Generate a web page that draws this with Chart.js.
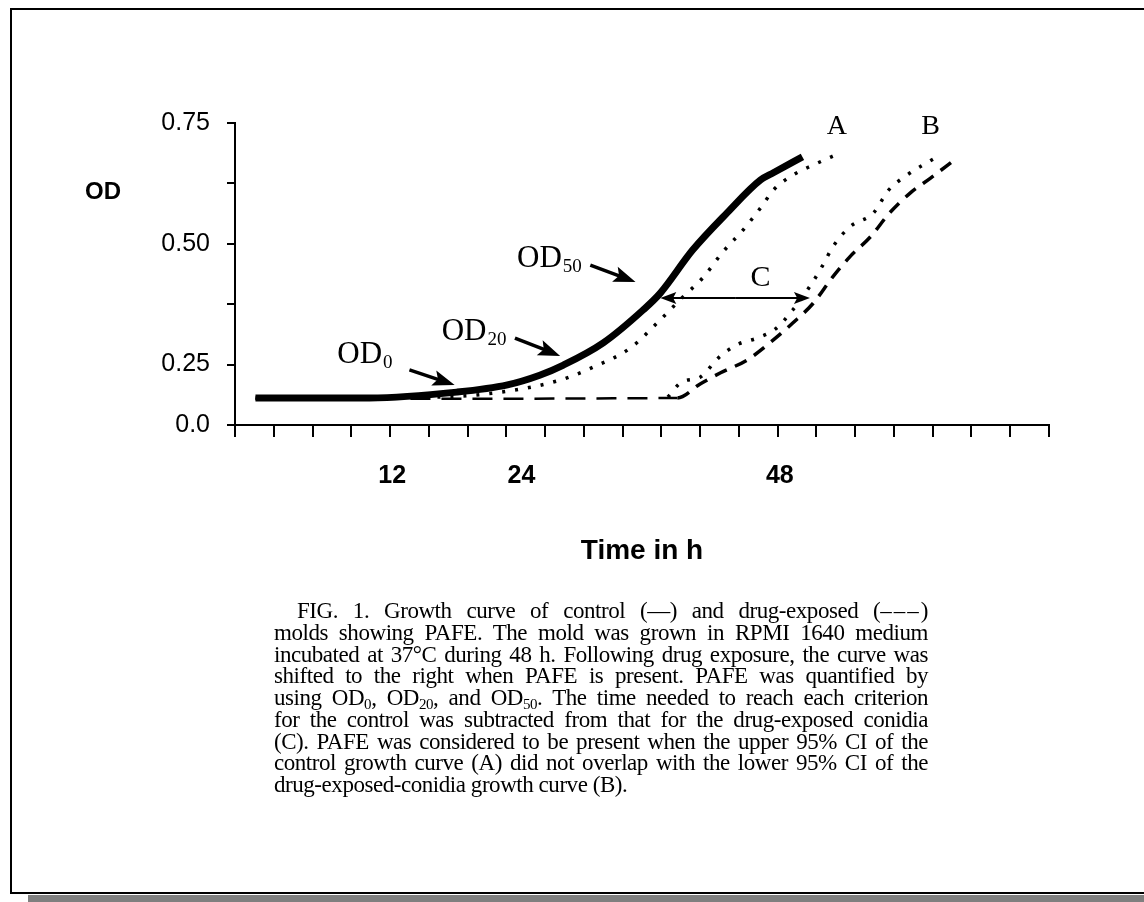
<!DOCTYPE html>
<html>
<head>
<meta charset="utf-8">
<title>Growth curve of control and drug-exposed molds</title>
<script src="https://cdn.jsdelivr.net/npm/chart.js@4.4.1/dist/chart.umd.min.js"></script>
<style>
  html, body { margin: 0; padding: 0; background: #fff; }
  body { width: 1144px; height: 902px; position: relative; overflow: hidden; }
  #frame {
    position: absolute; left: 10px; top: 8px; width: 1140px; height: 882px;
    border-left: 2px solid #000; border-top: 2px solid #000; border-bottom: 2px solid #000;
  }
  #shadow { position: absolute; left: 28px; top: 895px; width: 1116px; height: 7px; background: #7f7f7f; }
  #chartBox { position: absolute; left: 0; top: 0; width: 1144px; height: 600px; }
  #caption {
    position: absolute; left: 274px; top: 600px; width: 654px;
    font-family: "Liberation Serif", "Times New Roman", serif; font-size: 23px; letter-spacing: -0.45px;
    line-height: 21.75px; color: #000;
  }
  #caption .ln { text-align: justify; text-align-last: justify; }
  #caption .first { text-indent: 23px; }
  #caption .last { text-align-last: left; }
  #caption .dash { letter-spacing: 2px; }
  #caption sub { font-size: 15px; line-height: 0; vertical-align: -4px; }
</style>
</head>
<body>
<div id="frame"></div>
<div id="shadow"></div>
<div id="chartBox"><canvas id="growthChart" width="1144" height="600"></canvas></div>
<div id="caption">
  <div class="ln first">FIG. 1. Growth curve of control (—) and drug-exposed (<span class="dash">–––</span>)</div>
  <div class="ln">molds showing PAFE. The mold was grown in RPMI 1640 medium</div>
  <div class="ln">incubated at 37°C during 48 h. Following drug exposure, the curve was</div>
  <div class="ln">shifted to the right when PAFE is present. PAFE was quantified by</div>
  <div class="ln">using OD<sub>0</sub>, OD<sub>20</sub>, and OD<sub>50</sub>. The time needed to reach each criterion</div>
  <div class="ln">for the control was subtracted from that for the drug-exposed conidia</div>
  <div class="ln">(C). PAFE was considered to be present when the upper 95% CI of the</div>
  <div class="ln">control growth curve (A) did not overlap with the lower 95% CI of the</div>
  <div class="ln last">drug-exposed-conidia growth curve (B).</div>
</div>
<script>
// Control growth curve (solid)
const controlHours = [-0.7, 9.9, 18.0, 22.7, 25.7, 27.9, 31.6, 35.3, 36.9, 39.9, 43.1, 46.2, 47.4, 50.1];
const controlOD    = [0.181, 0.181, 0.193, 0.208, 0.228, 0.249, 0.295, 0.363, 0.398, 0.487, 0.564, 0.632, 0.647, 0.680];

// Upper 95% CI of control (A, dotted)
const upperCIHours = [-0.7, 16.4, 22.7, 27.6, 30.7, 34.1, 36.6, 39.0, 40.9, 42.7, 44.6, 46.2, 47.4, 49.2, 51.1, 53.6];
const upperCIOD    = [0.181, 0.183, 0.195, 0.218, 0.245, 0.284, 0.336, 0.390, 0.431, 0.483, 0.529, 0.574, 0.611, 0.642, 0.663, 0.688];

// Drug-exposed growth curve (dashed)
const exposedHours = [-0.7, 38.5, 40.6, 42.5, 45.0, 47.4, 49.2, 51.1, 52.9, 54.5, 56.4, 58.2, 60.1, 62.0, 64.3];
const exposedOD    = [0.179, 0.181, 0.210, 0.233, 0.260, 0.301, 0.336, 0.377, 0.431, 0.473, 0.514, 0.564, 0.605, 0.636, 0.675];

// Lower 95% CI of drug-exposed (B, dotted), visible once it leaves the lag phase
const lowerCIHours = [37.6, 38.9, 40.6, 42.3, 44.0, 45.9, 47.6, 49.2, 51.0, 52.0, 52.9, 54.5, 56.7, 58.1, 59.8, 62.6];
const lowerCIOD    = [0.183, 0.214, 0.224, 0.264, 0.291, 0.305, 0.324, 0.363, 0.419, 0.456, 0.493, 0.535, 0.564, 0.611, 0.642, 0.680];

// Axis ticks (the axis is broken: "0.0" sits one step below 0.25)
const yTickValues = [0.125, 0.25, 0.375, 0.5, 0.625, 0.75];
const yTickLabels = ['0.0', '0.25', '', '0.50', '', '0.75'];
const xLabelValues = [12, 24, 48];
const xMin = -2.6, xStep = 3.6, xMarkCount = 21;

const xMarks = [];
for (let k = 0; k <= xMarkCount; k++) xMarks.push(Math.round((xMin + k * xStep) * 10) / 10);
const xMax = xMarks[xMarks.length - 1];

function toPoints(xs, ys) {
    return xs.map(function(x, i) { return {x: x, y: ys[i]}; });
}

const SERIF = '"Liberation Serif", "Times New Roman", serif';
const SANS = '"Liberation Sans", Arial, sans-serif';

// Annotation texts and arrows, placed in data coordinates
const odNotes = [
    {sub: '0',  x: 6.9,  y: 0.253, from: [13.6, 0.239], to: [17.8, 0.208]},
    {sub: '20', x: 16.6, y: 0.301, from: [23.4, 0.305], to: [27.6, 0.268]},
    {sub: '50', x: 23.6, y: 0.452, from: [30.4, 0.456], to: [34.6, 0.421]}
];
const letterNotes = [
    {text: 'A', x: 53.3, y: 0.742, size: 28},
    {text: 'B', x: 62.0, y: 0.742, size: 28},
    {text: 'C', x: 46.2, y: 0.429, size: 30}
];
const shiftArrow = {from: 36.9, to: 50.8, y: 0.388};

function drawArrow(ctx, x1, y1, x2, y2, headLen, headHalf, width) {
    var a = Math.atan2(y2 - y1, x2 - x1);
    var c = Math.cos(a), s = Math.sin(a);
    ctx.lineWidth = width;
    ctx.beginPath();
    ctx.moveTo(x1, y1);
    ctx.lineTo(x2 - c * headLen * 0.7, y2 - s * headLen * 0.7);
    ctx.stroke();
    ctx.beginPath();
    ctx.moveTo(x2, y2);
    ctx.lineTo(x2 - c * headLen - s * headHalf, y2 - s * headLen + c * headHalf);
    ctx.lineTo(x2 - c * headLen * 0.8, y2 - s * headLen * 0.8);
    ctx.lineTo(x2 - c * headLen + s * headHalf, y2 - s * headLen - c * headHalf);
    ctx.closePath();
    ctx.fill();
}

const annotationPlugin = {
    id: 'annotations',
    afterDraw: function(chart) {
        var ctx = chart.ctx;
        var xs = chart.scales.x, ys = chart.scales.y;
        var area = chart.chartArea;
        ctx.save();
        ctx.fillStyle = '#000';
        ctx.strokeStyle = '#000';

        // y axis title, written horizontally
        ctx.font = 'bold 24px ' + SANS;
        ctx.textAlign = 'left';
        ctx.textBaseline = 'middle';
        ctx.fillText('OD', area.left - 150, area.top + 69);
        ctx.textBaseline = 'alphabetic';

        // OD0 / OD20 / OD50 with arrows
        odNotes.forEach(function(n) {
            var px = xs.getPixelForValue(n.x), py = ys.getPixelForValue(n.y);
            ctx.font = '31px ' + SERIF;
            ctx.fillText('OD', px, py);
            var w = ctx.measureText('OD').width;
            ctx.font = '19px ' + SERIF;
            ctx.fillText(n.sub, px + w + 1, py + 5);
            drawArrow(ctx,
                xs.getPixelForValue(n.from[0]), ys.getPixelForValue(n.from[1]),
                xs.getPixelForValue(n.to[0]), ys.getPixelForValue(n.to[1]),
                22, 8, 3.5);
        });

        // A, B, C letters
        ctx.textAlign = 'center';
        ctx.textBaseline = 'middle';
        letterNotes.forEach(function(n) {
            ctx.font = n.size + 'px ' + SERIF;
            ctx.fillText(n.text, xs.getPixelForValue(n.x), ys.getPixelForValue(n.y));
        });

        // double arrow C
        var yA = ys.getPixelForValue(shiftArrow.y);
        var xL = xs.getPixelForValue(shiftArrow.from), xR = xs.getPixelForValue(shiftArrow.to);
        var mid = (xL + xR) / 2;
        drawArrow(ctx, mid, yA, xR, yA, 16, 6, 2);
        drawArrow(ctx, mid, yA, xL, yA, 16, 6, 2);
        ctx.restore();
    }
};

new Chart(document.getElementById('growthChart'), {
    type: 'line',
    data: {
        datasets: [
            {
                label: 'Control',
                data: toPoints(controlHours, controlOD),
                borderColor: '#000',
                borderWidth: 7,
                order: 0
            },
            {
                label: 'Upper 95% CI control (A)',
                data: toPoints(upperCIHours, upperCIOD),
                borderColor: '#000',
                borderWidth: 3.5,
                borderDash: [3, 10],
                order: 2
            },
            {
                label: 'Drug-exposed',
                data: toPoints(exposedHours, exposedOD),
                borderColor: '#000',
                borderWidth: 3.5,
                order: 1,
                segment: {
                    // flat lag phase drawn with long thin dashes
                    borderDash: function(c) { return c.p0.parsed.x < 38 ? [20, 11] : [13, 9]; },
                    borderWidth: function(c) { return c.p0.parsed.x < 38 ? 2.5 : 3.5; }
                }
            },
            {
                label: 'Lower 95% CI drug-exposed (B)',
                data: toPoints(lowerCIHours, lowerCIOD),
                borderColor: '#000',
                borderWidth: 3.5,
                borderDash: [3, 10],
                order: 3
            }
        ]
    },
    options: {
        responsive: false,
        animation: false,
        events: [],
        elements: {
            point: { radius: 0 },
            line: { cubicInterpolationMode: 'monotone', borderCapStyle: 'butt', fill: false }
        },
        layout: { padding: { left: 0, right: 95, top: 123, bottom: 0 } },
        plugins: { legend: { display: false }, tooltip: { enabled: false } },
        scales: {
            x: {
                type: 'linear',
                position: 'bottom',
                weight: 0,
                min: xMin,
                max: xMax,
                afterBuildTicks: function(scale) {
                    scale.ticks = xMarks.map(function(v) { return {value: v}; });
                },
                afterFit: function(scale) { scale.height = 12; },
                ticks: { display: false },
                grid: { drawOnChartArea: false, drawTicks: true, tickLength: 12, tickColor: '#000', lineWidth: 2 },
                border: { display: true, color: '#000', width: 2 }
            },
            xl: {
                type: 'linear',
                position: 'bottom',
                weight: 1,
                min: xMin,
                max: xMax,
                afterBuildTicks: function(scale) {
                    scale.ticks = xLabelValues.map(function(v) { return {value: v}; });
                },
                afterFit: function(scale) { scale.height = 600 - 425 - 12; },
                ticks: {
                    padding: 24,
                    maxRotation: 0,
                    color: '#000',
                    font: { family: SANS, size: 25, weight: 'bold' },
                    callback: function(v) { return String(v); }
                },
                grid: { display: false, drawTicks: false },
                border: { display: false },
                title: {
                    display: true,
                    text: 'Time in h',
                    color: '#000',
                    font: { family: SANS, size: 28, weight: 'bold' },
                    padding: { top: 0, bottom: 32 }
                }
            },
            y: {
                type: 'linear',
                position: 'left',
                min: 0.125,
                max: 0.75,
                afterBuildTicks: function(scale) {
                    scale.ticks = yTickValues.map(function(v) { return {value: v}; });
                },
                afterFit: function(scale) { scale.width = 235; },
                ticks: {
                    padding: 17,
                    color: '#000',
                    font: { family: SANS, size: 25 },
                    callback: function(v) {
                        var i = yTickValues.indexOf(v);
                        return i >= 0 ? yTickLabels[i] : '';
                    }
                },
                grid: { drawOnChartArea: false, drawTicks: true, tickLength: 8, tickColor: '#000', lineWidth: 2 },
                border: { display: true, color: '#000', width: 2 }
            }
        }
    },
    plugins: [annotationPlugin]
});
</script>
</body>
</html>
